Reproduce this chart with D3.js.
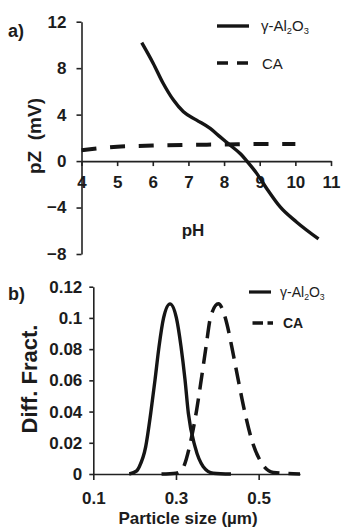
<!DOCTYPE html>
<html>
<head>
<meta charset="utf-8">
<script src="https://cdn.jsdelivr.net/npm/d3@7"></script>
<style>
  body { margin: 0; background: #fff; }
  svg { display: block; }
  text { font-family: "Liberation Sans", Arial, sans-serif; fill: #1c1c1c; }
</style>
</head>
<body>
<svg id="chart" width="347" height="530"></svg>
<script>
// ---- Panel a) zeta potential vs pH ----
const phTicks = [4, 5, 6, 7, 8, 9, 10, 11];
const pzTicks = [-8, -4, 0, 4, 8, 12];
const alPH = [5.69, 6.01, 6.29, 6.58, 6.86, 7.23, 7.61, 7.89, 8.17, 8.45, 8.64, 8.92, 9.2, 9.58, 10.04, 10.65];
const alPZ = [10.2, 8.43, 6.70, 5.25, 4.24, 3.53, 2.81, 2.08, 1.37, 0.65, 0.0, -1.08, -2.38, -3.97, -5.26, -6.70];
const caPH = [4, 5, 6, 7, 8, 9, 10];
const caPZ = [0.94, 1.23, 1.34, 1.40, 1.43, 1.48, 1.48];

// ---- Panel b) particle size distribution ----
const sizeTicks = [0.1, 0.3, 0.5];
const fracTicks = [0, 0.02, 0.04, 0.06, 0.08, 0.1, 0.12];
const alSize = [0.187, 0.205, 0.2113, 0.2268, 0.2389, 0.2493, 0.259, 0.270, 0.2856, 0.301, 0.3122, 0.3219, 0.3299, 0.3461, 0.366, 0.39, 0.433];
const alFrac = [0, 0.002, 0.0047, 0.0175, 0.0389, 0.0603, 0.0816, 0.100, 0.109, 0.100, 0.0816, 0.0603, 0.0389, 0.0175, 0.0047, 0.0005, 0];
const caSize = [0.265, 0.30, 0.314, 0.338, 0.350, 0.362, 0.3727, 0.384, 0.4025, 0.4228, 0.4349, 0.4508, 0.4670, 0.4833, 0.5075, 0.5355, 0.6];
const caFrac = [0, 0.0005, 0.0026, 0.024, 0.041, 0.062, 0.0816, 0.1008, 0.109, 0.0966, 0.0816, 0.060, 0.039, 0.0218, 0.0069, 0.001, 0];

const seriesNames = ["γ-Al", "2", "O", "3"];
const caName = "CA";

const svg = d3.select("#chart");
const INK = "#151515";
const AX = "#222";

function styleAxis(g) {
  g.select(".domain").attr("stroke", AX).attr("stroke-width", 1.6);
  g.selectAll(".tick line").attr("stroke", AX).attr("stroke-width", 1.6);
  g.selectAll(".tick text")
    .attr("fill", "#1c1c1c")
    .style("font-family", '"Liberation Sans", Arial, sans-serif')
    .style("font-size", "17px")
    .style("font-weight", "bold");
}

function legendName(sel, x, y, size) {
  const t = sel.append("text").attr("x", x).attr("y", y).style("font-size", size + "px");
  t.append("tspan").text(seriesNames[0]);
  t.append("tspan").text(seriesNames[1]).style("font-size", (size * 0.62) + "px").attr("dy", size * 0.22);
  t.append("tspan").text(seriesNames[2]).attr("dy", -size * 0.22);
  t.append("tspan").text(seriesNames[3]).style("font-size", (size * 0.62) + "px").attr("dy", size * 0.22);
  return t;
}

// ===== Panel a =====
const xA = d3.scaleLinear().domain([4, 11]).range([81.5, 331]);
const yA = d3.scaleLinear().domain([-8, 12]).range([254, 21.7]);

svg.append("g")
  .attr("transform", `translate(${xA(4)},0)`)
  .call(d3.axisLeft(yA).tickValues(pzTicks).tickSize(5).tickSizeOuter(0).tickPadding(10).tickFormat(d3.format("d")))
  .call(styleAxis);

svg.append("g")
  .attr("transform", `translate(0,${yA(0)})`)
  .call(d3.axisBottom(xA).tickValues(phTicks).tickSize(5).tickSizeOuter(0).tickPadding(9.7).tickFormat(d3.format("d")))
  .call(styleAxis);

const lineA = d3.line().x(d => xA(d[0])).y(d => yA(d[1])).curve(d3.curveMonotoneX);

svg.append("path")
  .datum(caPH.map((v, i) => [v, caPZ[i]]))
  .attr("d", lineA).attr("fill", "none").attr("stroke", INK)
  .attr("stroke-width", 4).attr("stroke-dasharray", "15,13.7");

svg.append("path")
  .datum(alPH.map((v, i) => [v, alPZ[i]]))
  .attr("d", lineA).attr("fill", "none").attr("stroke", INK)
  .attr("stroke-width", 3.4).attr("stroke-linejoin", "round");

svg.append("text").attr("x", 193).attr("y", 236).attr("text-anchor", "middle")
  .style("font-size", "17px").style("font-weight", "bold").text("pH");
svg.append("text").attr("transform", "translate(41,136) rotate(-90)").attr("text-anchor", "middle")
  .style("font-size", "19px").style("font-weight", "bold").style("white-space", "pre").text("pZ  (mV)");
svg.append("text").attr("x", 8).attr("y", 37).style("font-size", "18px").style("font-weight", "bold").text("a)");

// legend a
svg.append("line").attr("x1", 217).attr("x2", 249).attr("y1", 26).attr("y2", 26)
  .attr("stroke", INK).attr("stroke-width", 3.4);
legendName(svg, 261, 31, 15);
svg.append("line").attr("x1", 217).attr("x2", 249).attr("y1", 63).attr("y2", 63)
  .attr("stroke", INK).attr("stroke-width", 3.6).attr("stroke-dasharray", "11,9");
svg.append("text").attr("x", 262).attr("y", 68.5).style("font-size", "15px").text(caName);

// ===== Panel b =====
const xB = d3.scaleLinear().domain([0.1, 0.6]).range([93.3, 300]);
const yB = d3.scaleLinear().domain([0, 0.12]).range([474, 286.7]);

svg.append("g")
  .attr("transform", `translate(${xB(0.1)},0)`)
  .call(d3.axisLeft(yB).tickValues(fracTicks).tickSize(4).tickSizeOuter(0).tickPadding(7).tickFormat(d3.format("~g")))
  .call(styleAxis);

svg.append("g")
  .attr("transform", `translate(0,${yB(0)})`)
  .call(d3.axisBottom(xB).tickValues(sizeTicks).tickSize(6).tickSizeOuter(0).tickPadding(12).tickFormat(d3.format("~g")))
  .call(styleAxis);

const lineB = d3.line().x(d => xB(d[0])).y(d => yB(d[1])).curve(d3.curveMonotoneX);

svg.append("path")
  .datum(caSize.map((v, i) => [v, caFrac[i]]))
  .attr("d", lineB).attr("fill", "none").attr("stroke", INK)
  .attr("stroke-width", 3.5).attr("stroke-dasharray", "17,9");

svg.append("path")
  .datum(alSize.map((v, i) => [v, alFrac[i]]))
  .attr("d", lineB).attr("fill", "none").attr("stroke", INK)
  .attr("stroke-width", 3.4).attr("stroke-linejoin", "round");

svg.append("text").attr("x", 188).attr("y", 524).attr("text-anchor", "middle")
  .style("font-size", "17px").style("font-weight", "bold").text("Particle size (µm)");
svg.append("text").attr("transform", "translate(36.5,379) rotate(-90)").attr("text-anchor", "middle")
  .style("font-size", "22px").style("font-weight", "bold").text("Diff. Fract.");
svg.append("text").attr("x", 8).attr("y", 300).style("font-size", "18px").style("font-weight", "bold").text("b)");

// legend b
svg.append("line").attr("x1", 249).attr("x2", 271).attr("y1", 292).attr("y2", 292)
  .attr("stroke", INK).attr("stroke-width", 3.2);
legendName(svg, 280, 297, 14);
svg.append("line").attr("x1", 252.5).attr("x2", 273).attr("y1", 323).attr("y2", 323)
  .attr("stroke", INK).attr("stroke-width", 3.4).attr("stroke-dasharray", "10.5,4.5");
svg.append("text").attr("x", 283).attr("y", 328).style("font-size", "14px").style("font-weight", "bold").text(caName);
</script>
</body>
</html>
